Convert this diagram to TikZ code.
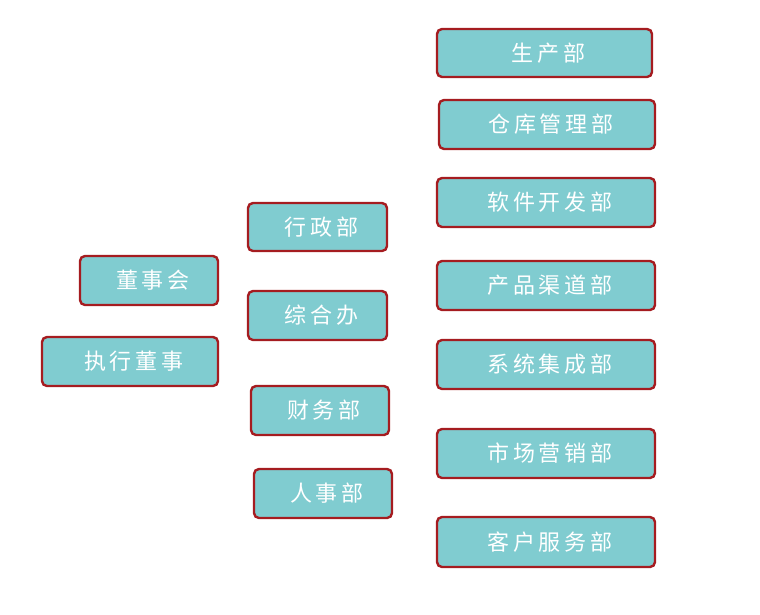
\documentclass[tikz,border=0pt]{standalone}
\usepackage{fontspec}
\newfontfamily\cjk[LetterSpace=18]{Noto Sans CJK SC}
\definecolor{boxfill}{HTML}{80CCD0}
\definecolor{boxline}{HTML}{A51C20}
\begin{document}
\begin{tikzpicture}[x=1pt,y=-1pt,
  box/.style={draw=boxline,line width=2.4pt,fill=boxfill,rounded corners=5pt},
  lbl/.style={text=white,font=\cjk\fontsize{22}{24}\selectfont,inner sep=0pt}]
\useasboundingbox (0,0) rectangle (760,614);
\newcommand\bx[6]{\draw[box] (#2,#3) rectangle (#4,#5); \node[lbl] (#1) at ({(#2+#4)/2+4},{(#3+#5)/2}) {#6};}
\bx{a}{437}{29}{652}{77}{生产部}
\bx{b}{439}{100}{655}{149}{仓库管理部}
\bx{c}{437}{178}{655}{227}{软件开发部}
\bx{d}{437}{261}{655}{310}{产品渠道部}
\bx{e}{437}{340}{655}{389}{系统集成部}
\bx{f}{437}{429}{655}{478}{市场营销部}
\bx{g}{437}{517}{655}{567}{客户服务部}
\bx{h}{248}{203}{387}{251}{行政部}
\bx{i}{248}{291}{387}{340}{综合办}
\bx{j}{251}{386}{389}{435}{财务部}
\bx{k}{254}{469}{392}{518}{人事部}
\bx{l}{80}{256}{218}{305}{董事会}
\bx{m}{42}{337}{218}{386}{执行董事}
\end{tikzpicture}
\end{document}
